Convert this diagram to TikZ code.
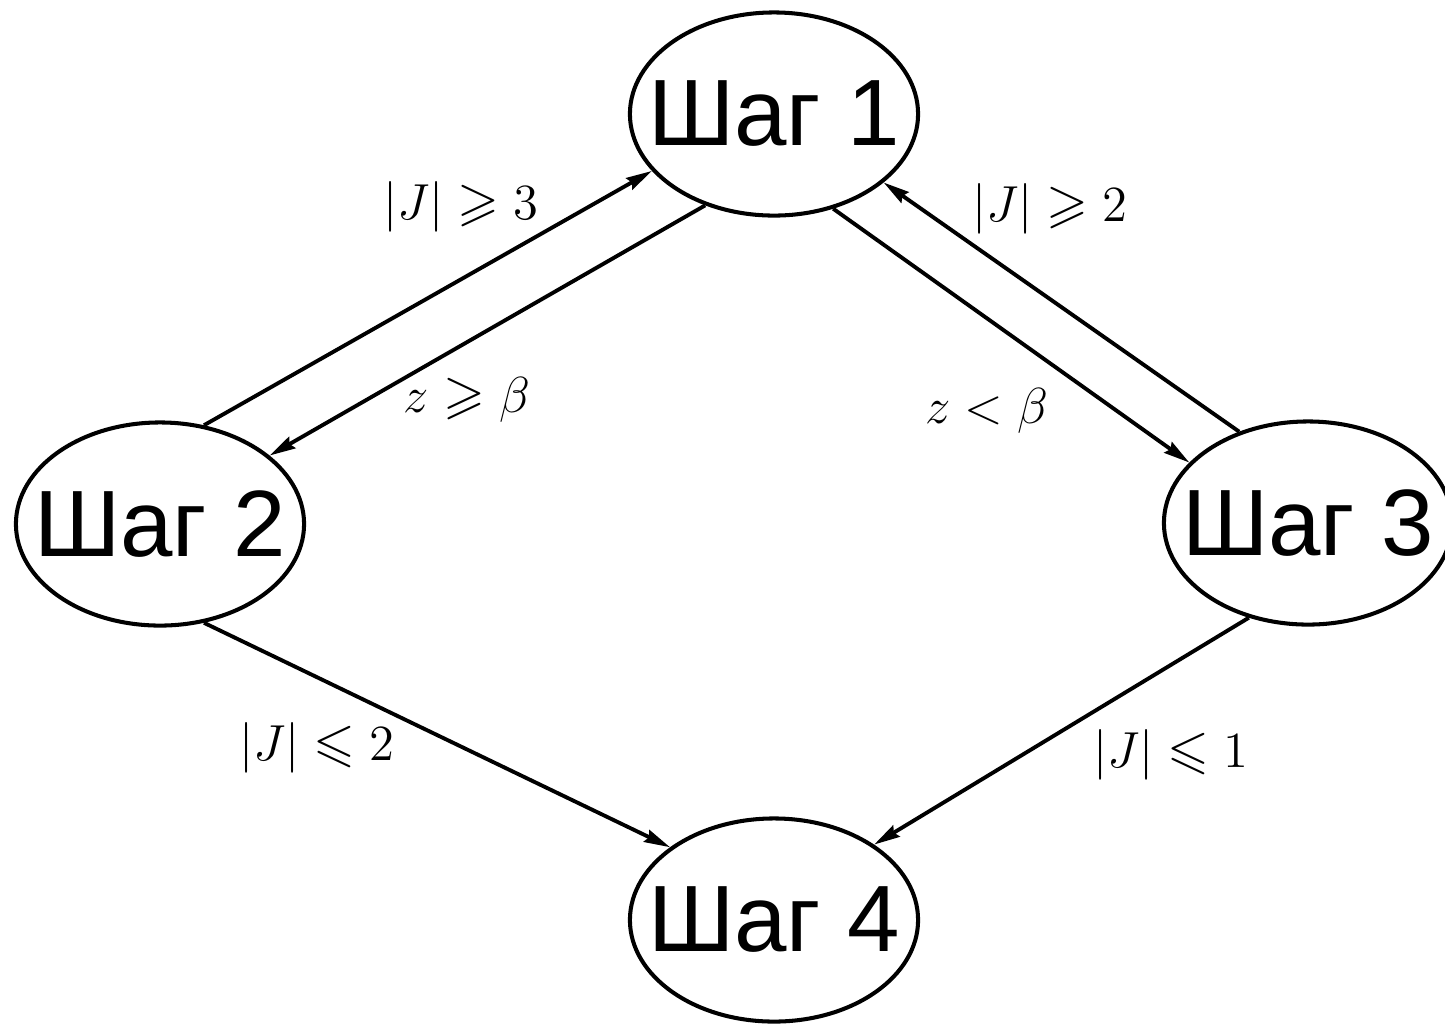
\documentclass[tikz,border=0pt]{standalone}
\usepackage{amssymb}
\usepackage{fontspec}
\newfontfamily\stepfont{Liberation Sans}
\usetikzlibrary{shapes.geometric,arrows.meta}
\begin{document}
\begin{tikzpicture}[x=0.01cm,y=-0.01cm,
  stepnode/.style={ellipse, draw, line width=1.15pt, minimum width=2.88cm, minimum height=2.03cm, inner sep=0pt, font=\stepfont\fontsize{26.8}{30}\selectfont},
  conn/.style={line width=1.1pt, -{Stealth[length=0.26cm,width=0.13cm,inset=0.03cm]}},
  lab/.style={inner sep=0pt, font=\fontsize{15.3}{18}\selectfont}]
\useasboundingbox (0,0) rectangle (1445,1023);
\node[stepnode] (s1) at (774,114) {\makebox[0pt]{Шаг 1}};
\node[stepnode] (s2) at (160,524) {\makebox[0pt]{Шаг 2}};
\node[stepnode] (s3) at (1308,523) {\makebox[0pt]{Шаг 3}};
\node[stepnode] (s4) at (774,920) {\makebox[0pt]{Шаг 4}};
\draw[conn] (s2.66.5) -- (s1.205.4);
\draw[conn] (s1.233.4) -- (s2.32.6);
\draw[conn] (s1.302.4) -- (s3.153.4);
\draw[conn] (s3.127.1) -- (s1.328.1);
\draw[conn] (s2.294.7) -- (s4.145.3);
\draw[conn] (s3.238.6) -- (s4.37.3);
\node[lab] (l1) at (461,207) {$|J|\geqslant 3$};
\node[lab] (l2) at (1050,209) {$|J|\geqslant 2$};
\node[lab] (l3) at (467,400) {$z\geqslant \beta$};
\node[lab] (l4) at (987,411) {$z<\beta$};
\node[lab] (l5) at (317,748) {$|J|\leqslant 2$};
\node[lab] (l6) at (1171,755) {$|J|\leqslant 1$};
\end{tikzpicture}
\end{document}
